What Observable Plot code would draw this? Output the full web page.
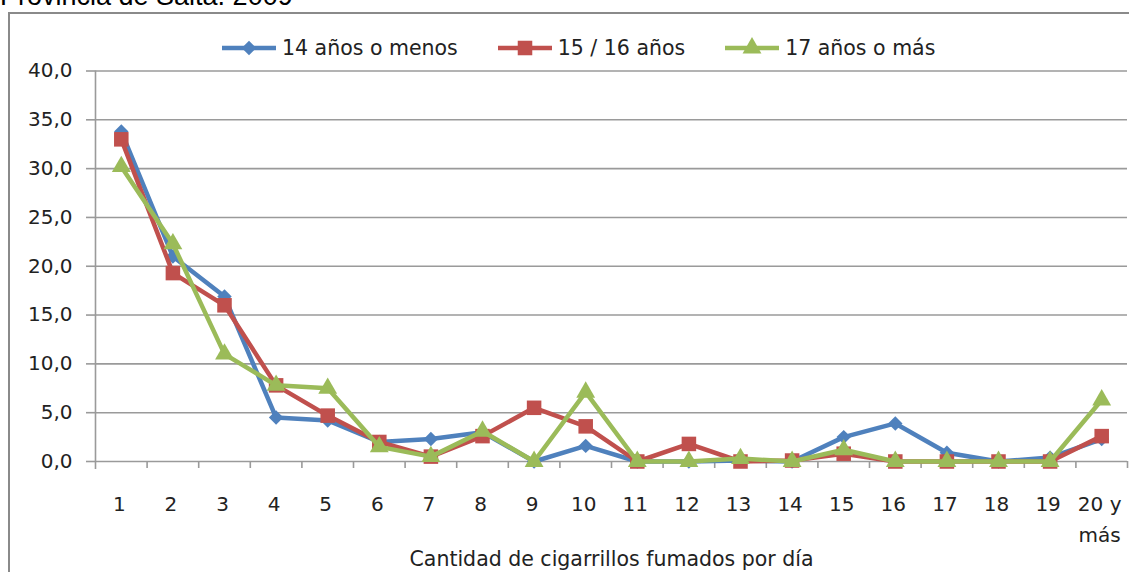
<!DOCTYPE html>
<html>
<head>
<meta charset="utf-8">
<script src="https://cdn.jsdelivr.net/npm/d3@7"></script>
<script src="https://cdn.jsdelivr.net/npm/@observablehq/plot@0.6"></script>
<style>
  html, body { margin: 0; padding: 0; background: #fff; }
  #wrap { position: relative; width: 1129px; height: 572px; overflow: hidden; font-family: "DejaVu Sans", sans-serif; }
  #title { position: absolute; left: 0; top: -19px; font-family: "Liberation Sans", Arial, sans-serif; font-size: 27px; color: #000; white-space: nowrap; }
  #box { position: absolute; left: 8px; top: 12px; width: 1140px; height: 620px; border: 2px solid #8a8a8a; box-sizing: border-box; }
  #chart { position: absolute; left: 0; top: 0; }
  #legend { position: absolute; left: 222px; top: 36px; display: flex; align-items: center; font-size: 20.5px; color: #222; white-space: nowrap; }
  .item { display: flex; align-items: center; margin-right: 40px; }
  .item svg { margin-right: 6px; }
</style>
</head>
<body>
<div id="wrap">
  <div id="title">Provincia de Salta. 2009</div>
  <div id="box"></div>
  <div id="chart"></div>
  <div id="legend"></div>
</div>
<script>
// ---- data ----
const categories = ["1","2","3","4","5","6","7","8","9","10","11","12","13","14","15","16","17","18","19","20 y\nmás"];
const seriesNames = ["14 años o menos", "15 / 16 años", "17 años o más"];
const serie14 = [33.8, 21.0, 16.9, 4.5, 4.2, 2.0, 2.3, 3.0, 0.0, 1.6, 0.0, 0.0, 0.1, 0.0, 2.5, 3.9, 0.9, 0.0, 0.4, 2.3];
const serie1516 = [33.0, 19.3, 16.0, 7.8, 4.7, 2.0, 0.5, 2.6, 5.5, 3.6, 0.0, 1.8, 0.0, 0.1, 0.8, 0.0, 0.0, 0.0, 0.0, 2.6];
const serie17 = [30.2, 22.3, 11.0, 7.8, 7.5, 1.5, 0.5, 3.1, 0.0, 7.1, 0.0, 0.0, 0.3, 0.0, 1.2, 0.0, 0.0, 0.0, 0.0, 6.3];
const yTicks = [0, 5, 10, 15, 20, 25, 30, 35, 40];
const xTitle = "Cantidad de cigarrillos fumados por día";

const colors = ["#4F81BD", "#C0504D", "#9BBB59"];
const symbols = ["diamond2", "square", "triangle"];
const radii = [6.5, 8.2, 7];
const allSeries = [serie14, serie1516, serie17];

const rows = [];
allSeries.forEach((vals, s) => vals.forEach((v, i) => rows.push({serie: seriesNames[s], s, x: i + 1, v})));
const boundaries = categories.map((c, i) => i + 1.5);
const catIdx = categories.map((c, i) => ({label: c, x: i + 1}));

const font = "DejaVu Sans, sans-serif";
const marks = [
  Plot.ruleY(yTicks, {y: d => d, stroke: "#9a9a9a", strokeWidth: 1.6}),
  Plot.axisY({ticks: yTicks, label: null, tickSize: 9, tickPadding: 14, stroke: "#9a9a9a", strokeWidth: 1.6,
    tickFormat: d => d.toFixed(1).replace(".", ","), fontSize: 20, fill: "#222"}),
  Plot.ruleX([0.5], {stroke: "#9a9a9a", strokeWidth: 1.6, insetBottom: -8}),
  Plot.ruleX(boundaries, {x: d => d, y1: 0, y2: 0, insetBottom: -7, stroke: "#9a9a9a", strokeWidth: 1.6}),
  Plot.text(catIdx, {x: "x", text: "label", frameAnchor: "bottom", lineAnchor: "top", dy: 27, dx: -2,
    lineHeight: 1.55, fontSize: 20, fill: "#222"}),
  Plot.text([xTitle], {text: d => d, frameAnchor: "bottom", lineAnchor: "bottom", dy: 104, fontSize: 20.5, fill: "#222"})
];
seriesNames.forEach((name, s) => {
  const d = rows.filter(r => r.s === s);
  marks.push(Plot.line(d, {x: "x", y: "v", stroke: colors[s], strokeWidth: 4.5, strokeLinejoin: "round"}));
  marks.push(Plot.dot(d, {x: "x", y: "v", symbol: () => symbols[s], fill: colors[s], r: radii[s], stroke: "none"}));
});

const chart = Plot.plot({
  width: 1129, height: 572,
  marginLeft: 95, marginRight: 2, marginTop: 70.5, marginBottom: 111,
  style: {fontFamily: font, background: "transparent", overflow: "visible"},
  x: {type: "linear", domain: [0.5, 20.5], axis: null},
  y: {domain: [0, 40], axis: null},
  symbol: {type: "identity"},
  marks
});
document.getElementById("chart").appendChild(chart);

// legend
const legend = document.getElementById("legend");
seriesNames.forEach((name, s) => {
  const item = document.createElement("div");
  item.className = "item";
  const sym = symbols[s] === "diamond2" ? d3.symbolDiamond2 : symbols[s] === "square" ? d3.symbolSquare : d3.symbolTriangle;
  const path = d3.symbol(sym, Math.PI * radii[s] * radii[s])();
  item.innerHTML = `<svg width="54" height="24"><line x1="0" x2="54" y1="12" y2="12" stroke="${colors[s]}" stroke-width="4.5"/><path d="${path}" transform="translate(27,12)" fill="${colors[s]}"/></svg><span>${name}</span>`;
  legend.appendChild(item);
});
</script>
</body>
</html>
